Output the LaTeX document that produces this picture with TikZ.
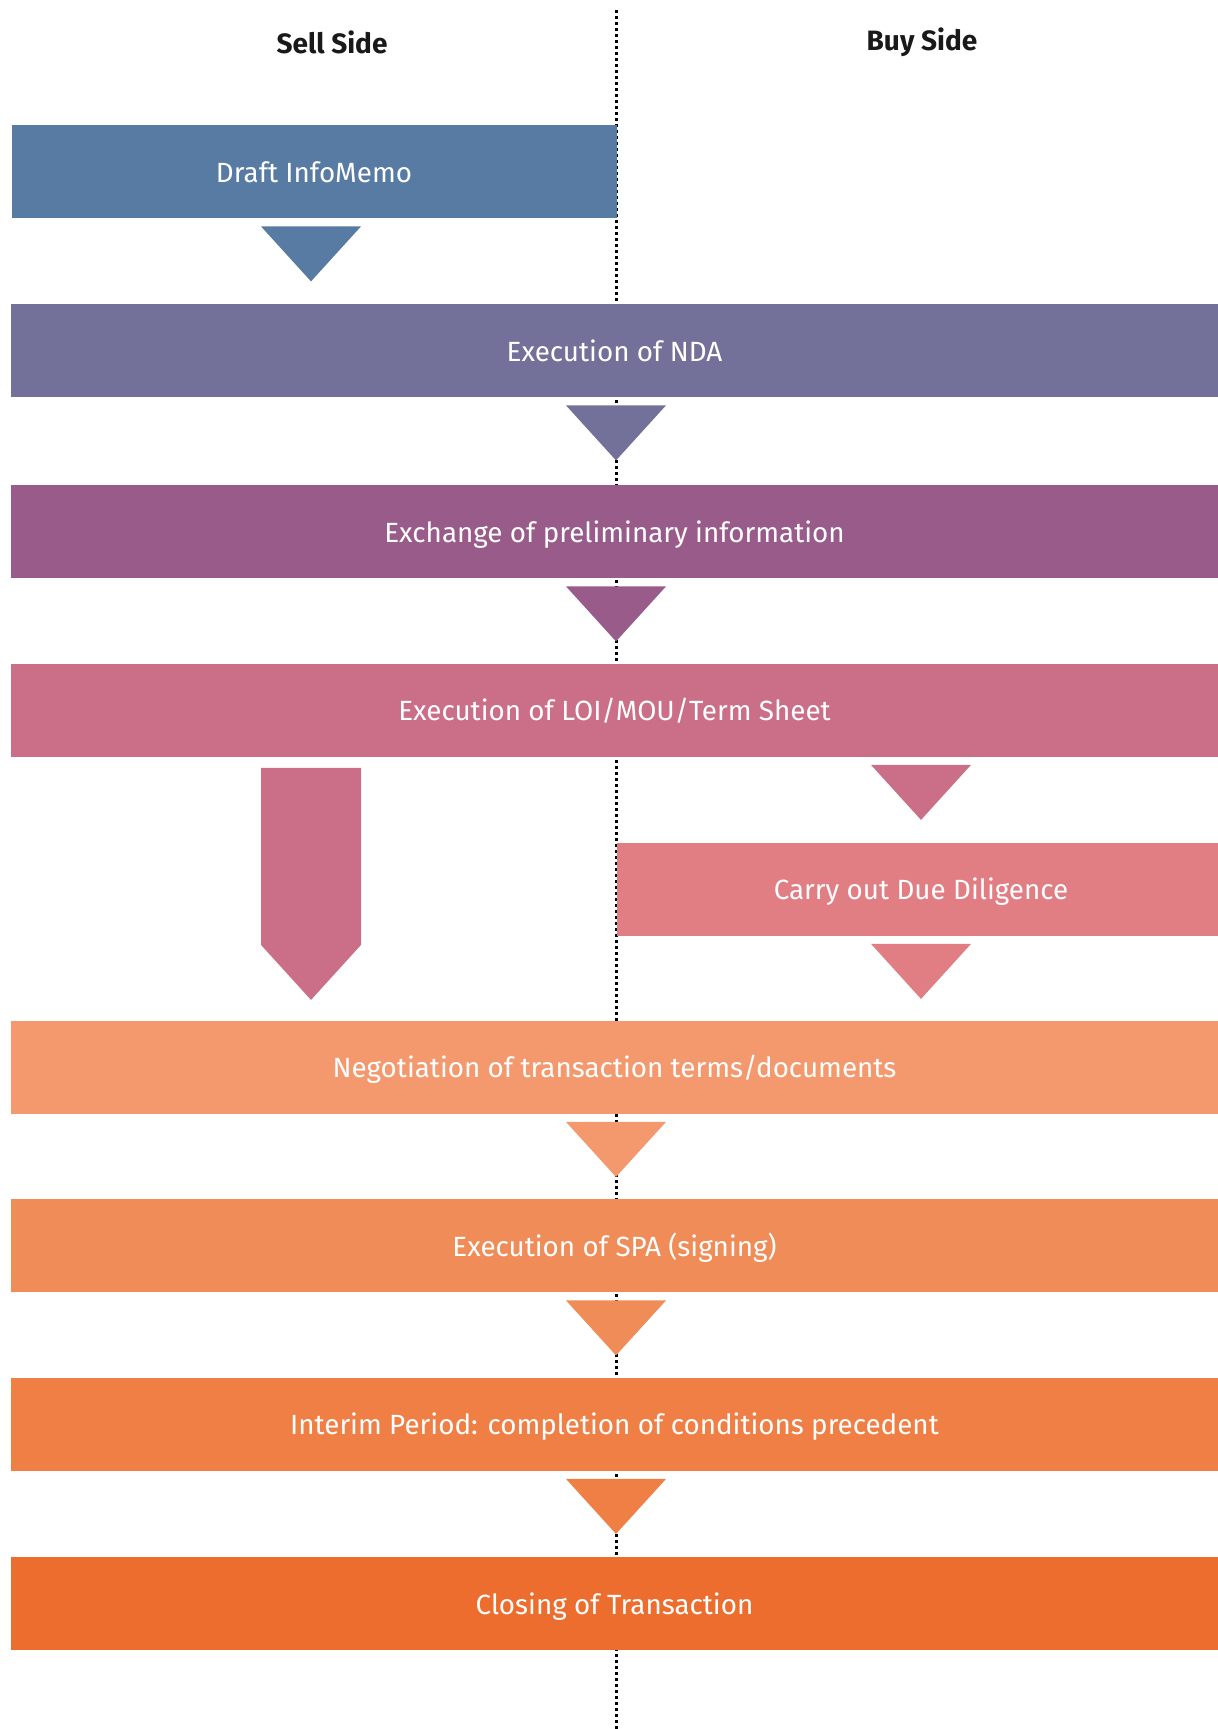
\documentclass[tikz,border=0pt]{standalone}
\usepackage{fontspec}
\setmainfont{Fira Sans}
\usetikzlibrary{calc}
\definecolor{DraftBlue}{HTML}{587BA3}
\definecolor{NdaViolet}{HTML}{737199}
\definecolor{ExchPlum}{HTML}{995B89}
\definecolor{LoiRose}{HTML}{CB6E87}
\definecolor{DdPink}{HTML}{E17E84}
\definecolor{NegoPeach}{HTML}{F4996E}
\definecolor{SpaOrange}{HTML}{F08C57}
\definecolor{InterimOrange}{HTML}{EF7F44}
\definecolor{CloseOrange}{HTML}{EC6D2D}

\begin{document}
\begin{tikzpicture}[x=0.5pt,y=-0.5pt,
  stage/.style={fill=#1,text=white,inner sep=0pt,minimum height=46.5pt,minimum width=603.5pt,text height=10.6pt,text depth=0pt,font=\fontsize{13.9}{16}\selectfont},
  half/.style={minimum width=302.5pt},
  side/.style={font=\fontsize{14}{16}\selectfont\bfseries,text=black!90}]
  \useasboundingbox (0,0) rectangle (1218,1729);
  \coordinate (lft) at (311,0);
  \coordinate (mid) at (616,0);
  \coordinate (rgt) at (921,0);
  \draw[line width=1.1pt,dash pattern=on 1.3pt off 1.7pt] (616.5,10) -- (616.5,1729);
  \node[side] (sell) at (332,42) {Sell Side};
  \node[side] (buy) at (922,42) {Buy Side};
  \node[stage=DraftBlue,half] (draft) at (314,171.5) {Draft InfoMemo};
  \node[stage=NdaViolet] (nda) at (614.5,350.5) {Execution of NDA};
  \node[stage=ExchPlum] (exch) at (614.5,531.5) {Exchange of preliminary information};
  \node[stage=LoiRose] (loi) at (614.5,710) {Execution of LOI/MOU/Term Sheet};
  \node[stage=DdPink,half,minimum width=300.5pt] (dd) at (917.5,889) {\hspace{3.5pt}Carry out Due Diligence};
  \node[stage=NegoPeach] (nego) at (614.5,1067) {Negotiation of transaction terms/documents};
  \node[stage=SpaOrange] (spa) at (614.5,1245.5) {Execution of SPA (signing)};
  \node[stage=InterimOrange] (interim) at (614.5,1424) {Interim Period: completion of conditions precedent};
  \node[stage=CloseOrange] (close) at (614.5,1603.5) {Closing of Transaction};
  \foreach \s/\c/\col in {draft/lft/DraftBlue,nda/mid/NdaViolet,exch/mid/ExchPlum,loi/rgt/LoiRose,dd/rgt/DdPink,nego/mid/NegoPeach,spa/mid/SpaOrange,interim/mid/InterimOrange}
    \fill[\col] (\s.south -| \c) ++(-50,8) -- ++(100,0) -- ++(-50,55) -- cycle;
  \fill[LoiRose] (loi.south -| lft) ++(-50,11) -- ++(100,0) -- ++(0,177) -- ++(-50,55) -- ++(-50,-55) -- cycle;
\end{tikzpicture}
\end{document}
